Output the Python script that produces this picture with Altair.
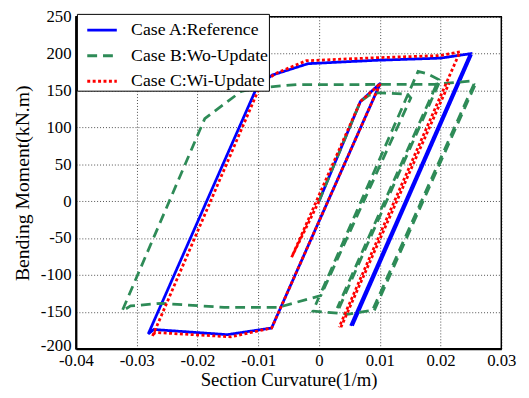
import altair as alt
import pandas as pd

# ---- data ----
cases = ["Case A:Reference", "Case B:Wo-Update", "Case C:Wi-Update"]
colors = ["#0000FF", "#2E8B57", "#FF0000"]
dashes = [[1, 0], [10, 6], [3, 2.5]]

# Case A (blue, solid): list of polylines
A_x = [
    [0, 0.0068, 0.0101, -0.0078, -0.0151, -0.0272, -0.0281, -0.0102, -0.0077,
     -0.0018, 0.0092, 0.0200, 0.0249, 0.0052],
    [0.0055, 0.0251],
]
A_y = [
    [0, 135, 160, -172, -181, -174, -180, 155, 171, 186.5, 191, 194, 200, -169],
    [-169, 199],
]

# Case B (green, dashed)
B_x = [
    [0, 0.0068, 0.0082, 0.0098, 0.0146, 0.0151, 0.0003, -0.0067, -0.0156,
     -0.0259, -0.0310, -0.0324, -0.0188, -0.0128, -0.0097, -0.0037, 0.0190,
     0.0252, 0.0255, 0.0088, 0.0049, -0.0010, 0.0163, 0.0178, 0.0197, 0.0030],
    [0.0033, 0.0200],
    [0.0091, 0.0258],
]
B_y = [
    [0, 135, 143.5, 147, 145, 140, -128, -144, -144, -138.5, -142, -149, 112,
     149, 154, 158, 158.5, 163, 159, -148, -153, -149, 176, 173, 165, -145],
    [-145, 165],
    [-148, 160],
]

# Case C (red, dotted)
C_x = [
    [0, -0.0045, 0.0068, 0.0095, 0.0101, -0.0078, -0.0145, -0.0270, -0.0274,
     -0.0096, -0.0072, -0.0021, 0.0092, 0.0200, 0.0232, 0.0033],
    [0.0036, 0.0214],
]
C_y = [
    [0, -76, 135, 155, 160, -172, -184, -178, -183, 158, 173, 190.5, 194.5,
     197.5, 202.5, -171],
    [-171, 160],
]

x_ticks = [-0.04, -0.03, -0.02, -0.01, 0, 0.01, 0.02, 0.03]
y_ticks = [-200, -150, -100, -50, 0, 50, 100, 150, 200, 250]


def build(name, xs, ys):
    rows = []
    for s, (sx, sy) in enumerate(zip(xs, ys)):
        for i, (xv, yv) in enumerate(zip(sx, sy)):
            rows.append({"case": name, "seg": f"{name}-{s}", "i": i, "x": xv, "y": yv})
    return pd.DataFrame(rows)


dfs = [build(cases[0], A_x, A_y), build(cases[1], B_x, B_y), build(cases[2], C_x, C_y)]

FONT = "Liberation Serif"

color_scale = alt.Scale(domain=cases, range=colors)
dash_scale = alt.Scale(domain=cases, range=dashes)

x_enc = alt.X(
    "x:Q",
    scale=alt.Scale(domain=[-0.04, 0.03], nice=False, zero=False),
    axis=alt.Axis(
        title="Section Curvature(1/m)",
        values=x_ticks,
        labelExpr="datum.value == 0 ? '0' : (datum.value < 0 ? '-' : '') + format(abs(datum.value), '.2f')",
    ),
)
y_enc = alt.Y(
    "y:Q",
    scale=alt.Scale(domain=[-200, 250], nice=False, zero=False),
    axis=alt.Axis(
        title="Bending Moment(kN.m)",
        values=y_ticks,
        labelExpr="(datum.value < 0 ? '-' : '') + format(abs(datum.value), 'd')",
        labelOffset={"condition": {"test": "datum.value == -200", "value": -3}, "value": 0},
    ),
)

legend = alt.Legend(
    title=None,
    orient="none",
    legendX=1,
    legendY=-3,
    strokeColor="black",
    fillColor="white",
    padding=0,
    symbolSize=900,
    symbolStrokeWidth=3,
    symbolType="stroke",
    symbolOffset=9,
    labelFont=FONT,
    labelFontSize=18,
    labelColor="black",
    rowPadding=-7,
    labelOffset=13,
    labelLimit=400,
    labelExpr="datum.label + '\u00a0\u00a0'",
)

layers = []
for k, df in enumerate(dfs):
    layers.append(
        alt.Chart(df)
        .mark_line(strokeWidth=2.8, strokeCap="butt", strokeJoin="miter")
        .encode(
            x=x_enc,
            y=y_enc,
            color=alt.Color("case:N", scale=color_scale, legend=legend),
            strokeDash=alt.StrokeDash("case:N", scale=dash_scale, legend=legend),
            detail="seg:N",
            order=alt.Order("i:Q"),
        )
    )

chart = (
    alt.layer(*layers)
    .properties(
        width=432,
        height=337,
        autosize=alt.AutoSizeParams(type="none"),
        padding={"left": 69, "top": 6, "right": 20, "bottom": 39},
    )
    .configure(font=FONT)
    .configure_view(stroke="black", strokeWidth=1.5)
    .configure_axis(
        labelFont=FONT,
        labelFontSize=17,
        labelColor="black",
        titleFont=FONT,
        titleFontSize=20,
        titleFontWeight="normal",
        titleColor="black",
        domainColor="black",
        domainWidth=2,
        ticks=False,
        grid=True,
        gridColor="#000000",
        gridOpacity=0.7,
        gridDash=[1, 2],
        gridWidth=1,
        labelOverlap=False,
        labelFlush=False,
        labelBound=False,
    )
    .configure_axisX(labelPadding=4, titlePadding=2, titleFontSize=19)
    .configure_axisY(labelPadding=5, titlePadding=8)
)

chart.save("out.html", embed_options={"renderer": "svg", "actions": False})
